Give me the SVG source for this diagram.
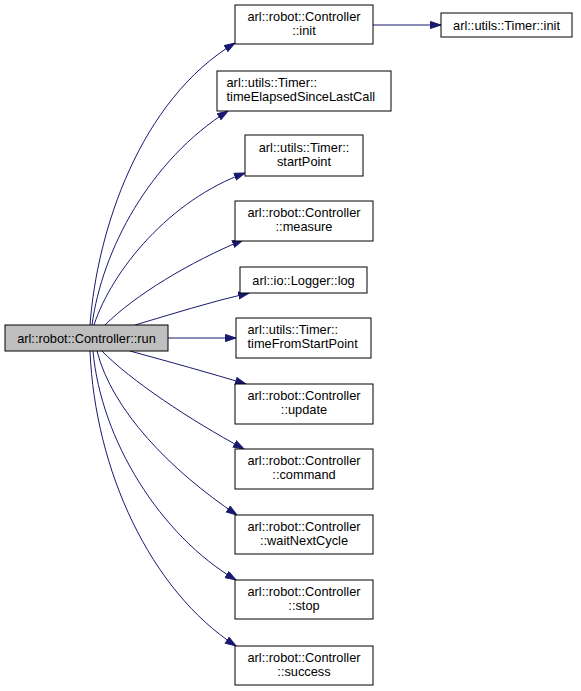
<svg xmlns="http://www.w3.org/2000/svg" width="581" height="691" viewBox="0 0 581 691">
<style>
.n rect{fill:#fff;stroke:#000;stroke-width:1}
.m rect{fill:#bfbfbf;stroke:#000;stroke-width:1}
text{font-family:"Liberation Sans",Arial,sans-serif;font-size:12.8px;fill:#000}
.c{text-anchor:middle}
.l{text-anchor:start}
.e path{fill:none;stroke:#191970;stroke-width:1}
</style>
<defs>
<marker id="a" markerUnits="userSpaceOnUse" markerWidth="13" markerHeight="10" refX="11" refY="4" orient="auto">
<path d="M0.5,0.5 L11,4 L0.5,7.5 z" fill="#191970" stroke="#191970"/>
</marker>
</defs>
<g class="e" id="edges">
<path marker-end="url(#a)" d="M90,325 C97,230 140,100 235,43"/>
<path marker-end="url(#a)" d="M92,325 C102,250 150,160 228,111"/>
<path marker-end="url(#a)" d="M94,325 C112,270 170,200 245,173"/>
<path marker-end="url(#a)" d="M105,325 C135,295 190,262 243,240"/>
<path marker-end="url(#a)" d="M135,325 C172,314 210,302 249,293"/>
<path marker-end="url(#a)" d="M168,338 L236,338"/>
<path marker-end="url(#a)" d="M130,351 C170,362 210,373 246,384"/>
<path marker-end="url(#a)" d="M102,351 C130,380 190,420 244,449"/>
<path marker-end="url(#a)" d="M97,351 C112,410 170,470 237,515"/>
<path marker-end="url(#a)" d="M93,351 C101,440 160,535 236,580"/>
<path marker-end="url(#a)" d="M90,351 C95,470 150,590 236,646"/>
<path marker-end="url(#a)" d="M373,25 L441,25"/>
</g>
<g class="m" id="run"><rect x="5" y="325" width="163" height="26"/><text class="c" x="86.5" y="342.5">arl::robot::Controller::run</text></g>
<g class="n" id="cinit"><rect x="235" y="5" width="138" height="39"/><text class="c" x="304" y="21">arl::robot::Controller</text><text class="c" x="304" y="35">::init</text></g>
<g class="n" id="tinit"><rect x="441" y="13" width="131" height="24"/><text class="c" x="506.5" y="29.5">arl::utils::Timer::init</text></g>
<g class="n" id="telapsed"><rect x="217" y="71" width="174" height="40"/><text class="l" x="226.5" y="87">arl::utils::Timer::</text><text class="l" x="226.5" y="101">timeElapsedSinceLastCall</text></g>
<g class="n" id="startpoint"><rect x="245" y="135" width="118" height="41"/><text class="c" x="304" y="152">arl::utils::Timer::</text><text class="c" x="304" y="166">startPoint</text></g>
<g class="n" id="measure"><rect x="235" y="201" width="138" height="40"/><text class="c" x="304" y="217">arl::robot::Controller</text><text class="c" x="304" y="231">::measure</text></g>
<g class="n" id="log"><rect x="240" y="267" width="127" height="26"/><text class="c" x="303.5" y="284.5">arl::io::Logger::log</text></g>
<g class="n" id="tfromstart"><rect x="236" y="318" width="135" height="40"/><text class="l" x="247.5" y="334">arl::utils::Timer::</text><text class="l" x="247.5" y="348">timeFromStartPoint</text></g>
<g class="n" id="update"><rect x="235" y="384" width="138" height="40"/><text class="c" x="304" y="400">arl::robot::Controller</text><text class="c" x="304" y="414">::update</text></g>
<g class="n" id="command"><rect x="235" y="449" width="138" height="40"/><text class="c" x="304" y="465">arl::robot::Controller</text><text class="c" x="304" y="479">::command</text></g>
<g class="n" id="wait"><rect x="235" y="515" width="138" height="39"/><text class="c" x="304" y="531">arl::robot::Controller</text><text class="c" x="304" y="545">::waitNextCycle</text></g>
<g class="n" id="stop"><rect x="235" y="580" width="138" height="39"/><text class="c" x="304" y="596">arl::robot::Controller</text><text class="c" x="304" y="610">::stop</text></g>
<g class="n" id="success"><rect x="235" y="646" width="138" height="39"/><text class="c" x="304" y="662">arl::robot::Controller</text><text class="c" x="304" y="676">::success</text></g>
</svg>
